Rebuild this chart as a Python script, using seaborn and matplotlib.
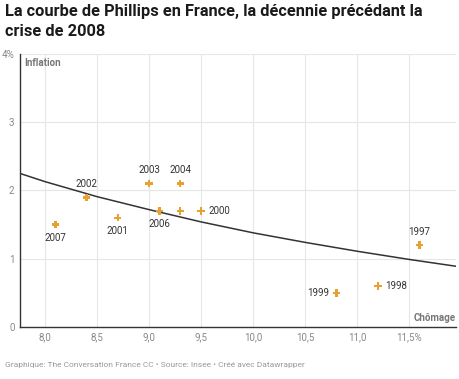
import matplotlib
matplotlib.use("Agg")
import matplotlib.pyplot as plt
import seaborn as sns
import pandas as pd

# Data
years = ["1997", "1998", "1999", "2000", "2001", "2002", "2003", "2004", "2005", "2006", "2007"]
chomage = [11.6, 11.2, 10.8, 9.5, 8.7, 8.4, 9.0, 9.3, 9.3, 9.1, 8.1]
inflation = [1.2, 0.6, 0.5, 1.7, 1.6, 1.9, 2.1, 2.1, 1.7, 1.7, 1.5]
label_pos = ["above", "right", "left", "right", "below", "above", "above", "above", "none", "below", "below"]

trend_x = [7.76, 8.0, 8.5, 9.0, 9.5, 10.0, 10.5, 11.0, 11.5, 11.95]
trend_y = [2.25, 2.13, 1.91, 1.72, 1.54, 1.38, 1.24, 1.11, 0.99, 0.89]

x_ticks = [8.0, 8.5, 9.0, 9.5, 10.0, 10.5, 11.0, 11.5]
x_labels = ["8,0", "8,5", "9,0", "9,5", "10,0", "10,5", "11,0", "11,5%"]
y_ticks = [0, 1, 2, 3, 4]
y_labels = ["0", "1", "2", "3", "4%"]

sns.set_style("white")
plt.rcParams["font.family"] = ["Roboto", "DejaVu Sans"]

df = pd.DataFrame({"year": years, "chomage": chomage, "inflation": inflation, "pos": label_pos})
trend = pd.DataFrame({"x": trend_x, "y": trend_y})

fig = plt.figure(figsize=(4.6, 3.79), dpi=100)
ax = fig.add_axes([20 / 460, 1 - 327 / 379, 436 / 460, 273 / 379])

ax.set_xlim(7.76, 11.95)
ax.set_ylim(0, 4)

for v in x_ticks:
    ax.axvline(v, color="#e6e6e6", lw=0.8, zorder=0)
for v in y_ticks[1:]:
    ax.axhline(v, color="#e6e6e6", lw=0.8, zorder=0)

sns.lineplot(data=trend, x="x", y="y", ax=ax, color="#333333", lw=1.1, zorder=2)
orange = "#e8a030"
sns.scatterplot(data=df, x="chomage", y="inflation", ax=ax, marker="P", s=28,
                color=orange, edgecolor="none", zorder=3)

offsets = {"above": (0, 6, "center", "bottom"), "below": (0, -6, "center", "top"),
           "right": (5, 0, "left", "center"), "left": (-5, 0, "right", "center")}
for _, r in df.iterrows():
    if r["pos"] == "none":
        continue
    dx, dy, ha, va = offsets[r["pos"]]
    ax.annotate(r["year"], (r["chomage"], r["inflation"]), xytext=(dx, dy),
                textcoords="offset points", ha=ha, va=va, fontsize=7, color="#333333", zorder=4)

ax.set_xticks(x_ticks)
ax.set_xticklabels(x_labels)
ax.set_yticks(y_ticks)
ax.set_yticklabels(y_labels)
ax.tick_params(axis="both", length=0, labelsize=7, colors="#888888")
ax.tick_params(axis="y", pad=4)
ax.tick_params(axis="x", pad=4)
ax.set_xlabel("")
ax.set_ylabel("")
for s in ["top", "right"]:
    ax.spines[s].set_visible(False)
ax.spines["left"].set_color("#333333")
ax.spines["bottom"].set_color("#333333")
ax.spines["left"].set_linewidth(1.0)
ax.spines["bottom"].set_linewidth(1.0)

ax.text(0.01, 0.985, "Inflation", transform=ax.transAxes, ha="left", va="top",
        fontsize=7, fontweight="bold", color="#777777")
ax.text(0.998, 0.015, "Chômage", transform=ax.transAxes, ha="right", va="bottom",
        fontsize=7, fontweight="bold", color="#777777")

fig.text(5 / 460, 1 - 4 / 379, "La courbe de Phillips en France, la décennie précédant la\ncrise de 2008",
         ha="left", va="top", fontsize=11.8, fontweight="bold", color="#1a1a1a", linespacing=1.4)
fig.text(5 / 460, 1 - 365 / 379, "Graphique: The Conversation France CC • Source: Insee • Créé avec Datawrapper",
         ha="left", va="center", fontsize=6, color="#999999")

fig.savefig("out.png", dpi=100)
